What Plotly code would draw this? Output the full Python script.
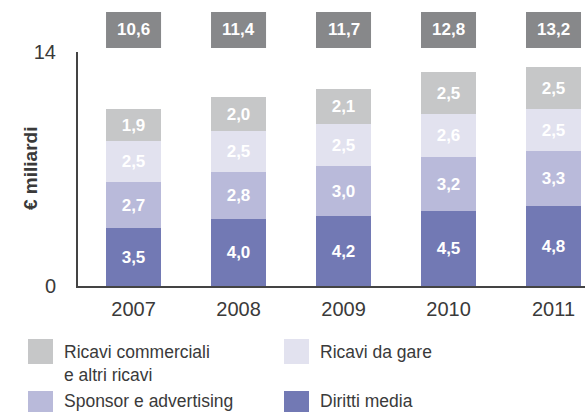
import plotly.graph_objects as go

# Revenue breakdown (billions of euro), stacked bottom to top
years = ["2007", "2008", "2009", "2010", "2011"]
diritti_media = [3.5, 4.0, 4.2, 4.5, 4.8]
sponsor_advertising = [2.7, 2.8, 3.0, 3.2, 3.3]
ricavi_gare = [2.5, 2.5, 2.5, 2.6, 2.5]
ricavi_commerciali = [1.9, 2.0, 2.1, 2.5, 2.5]
totals = [10.6, 11.4, 11.7, 12.8, 13.2]
y_ticks = [0, 14]

series = [
    ("Diritti media", diritti_media, "#7279b4"),
    ("Sponsor e advertising", sponsor_advertising, "#b9bada"),
    ("Ricavi da gare", ricavi_gare, "#e2e2ef"),
    ("Ricavi commerciali<br>e altri ricavi", ricavi_commerciali, "#c6c7c8"),
]

FONT = "Liberation Sans, Arial, Helvetica, sans-serif"
TEXT_COLOR = "#3a3a3a"
W, H = 585, 412
L, R, T, B = 78, 0, 52, 126
BAR_W = 0.524


def it_num(v):
    return f"{v:.1f}".replace(".", ",")


def px_x(px):
    return (px - L) / (W - L - R)


def px_y(py):
    return (H - B - py) / (H - T - B)


xs = list(range(len(years)))
fig = go.Figure()
for name, vals, color in series:
    fig.add_trace(go.Bar(
        x=xs, y=vals, name=name, width=BAR_W,
        marker=dict(color=color, line=dict(width=0)),
        text=[it_num(v) for v in vals],
        textposition="inside", insidetextanchor="middle",
        textfont=dict(family=FONT, size=17, color="white", weight="bold"),
        showlegend=False,
    ))

shapes = []
annotations = []

# Total boxes above each bar
for x, t in zip(xs, totals):
    shapes.append(dict(type="rect", xref="x", yref="paper",
                       x0=x - BAR_W / 2, x1=x + BAR_W / 2,
                       y0=px_y(48), y1=px_y(12),
                       fillcolor="#87888a", line=dict(width=0)))
    annotations.append(dict(xref="x", yref="paper", x=x, y=px_y(30),
                            text=f"<b>{it_num(t)}</b>", showarrow=False,
                            xanchor="center", yanchor="middle",
                            font=dict(family=FONT, size=17, color="white")))

# Axis title
annotations.append(dict(xref="paper", yref="paper", x=px_x(30), y=px_y(169),
                        text="<b>€ miliardi</b>", textangle=-90, showarrow=False,
                        xanchor="center", yanchor="middle",
                        font=dict(family=FONT, size=19, color=TEXT_COLOR)))

# Legend: two columns, two rows (square position, text top offset)
legend_items = [
    (series[3][0], series[3][2], 28, 339, 1),
    (series[2][0], series[2][2], 284, 339, 1),
    (series[1][0], series[1][2], 28, 391, -2),
    (series[0][0], series[0][2], 284, 391, -2),
]
for label, color, sx, sy, dy in legend_items:
    shapes.append(dict(type="rect", xref="paper", yref="paper",
                       x0=px_x(sx), x1=px_x(sx + 25),
                       y0=px_y(sy + 25), y1=px_y(sy),
                       fillcolor=color, line=dict(width=0)))
    annotations.append(dict(xref="paper", yref="paper",
                            x=px_x(sx + 34), y=px_y(sy + dy),
                            text=label, showarrow=False, align="left",
                            xanchor="left", yanchor="top",
                            font=dict(family=FONT, size=17.5, color=TEXT_COLOR)))

fig.update_layout(
    width=W, height=H,
    margin=dict(l=L, r=R, t=T, b=B, pad=0),
    barmode="stack",
    bargap=0,
    plot_bgcolor="white", paper_bgcolor="white",
    shapes=shapes, annotations=annotations,
    xaxis=dict(range=[-0.529, 4.30], tickvals=xs, ticktext=years,
               showgrid=False, zeroline=False, showline=True,
               linecolor="#444444", linewidth=2, ticks="",
               ticklabelstandoff=4,
               tickfont=dict(family=FONT, size=20, color=TEXT_COLOR)),
    yaxis=dict(range=[0, 14], tickvals=y_ticks, ticktext=[str(v) for v in y_ticks],
               showgrid=False, zeroline=False, showline=True,
               linecolor="#444444", linewidth=2, ticks="",
               ticklabelstandoff=16,
               tickfont=dict(family=FONT, size=20, color=TEXT_COLOR)),
)

fig.write_html("out.html")
